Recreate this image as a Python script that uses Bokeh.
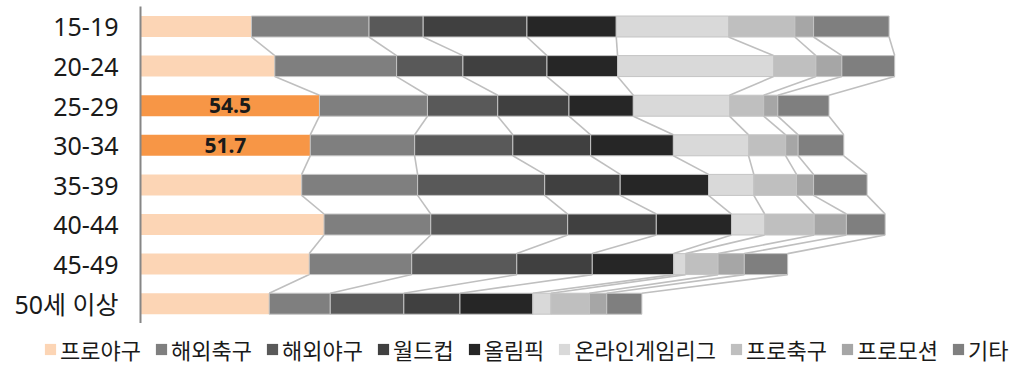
from bokeh.plotting import figure
from bokeh.layouts import column
from bokeh.models import Range1d, FixedTicker, Legend, LegendItem, ColumnDataSource
from bokeh.embed import file_html
from bokeh.resources import INLINE
from bokeh.core.properties import value

categories = ["15-19", "20-24", "25-29", "30-34", "35-39", "40-44", "45-49", "50세 이상"]
series_names = ["프로야구", "해외축구", "해외야구", "월드컵", "올림픽", "온라인게임리그", "프로축구", "프로모션", "기타"]

pro_baseball = [33.8, 40.9, 54.5, 51.7, 49.1, 55.9, 51.4, 39.2]
overseas_soccer = [35.8, 37.1, 32.9, 31.8, 35.3, 32.5, 31.2, 18.6]
overseas_baseball = [16.5, 20.2, 21.4, 29.9, 38.7, 41.7, 32.0, 22.4]
world_cup = [31.6, 25.6, 21.7, 23.7, 23.0, 27.0, 23.0, 17.1]
olympics = [27.2, 21.5, 19.6, 25.2, 26.9, 22.9, 24.8, 22.2]
online_game_league = [34.2, 47.5, 29.3, 22.9, 13.8, 10.1, 3.6, 5.5]
pro_soccer = [20.2, 12.9, 10.4, 11.3, 13.0, 15.1, 9.9, 11.7]
promotion = [5.7, 7.9, 4.3, 3.8, 5.2, 9.8, 8.0, 5.3]
other = [23.0, 16.1, 15.6, 13.9, 16.3, 11.8, 13.2, 10.7]

highlight = ["25-29", "30-34"]

series_values = [pro_baseball, overseas_soccer, overseas_baseball, world_cup, olympics,
                 online_game_league, pro_soccer, promotion, other]
colors = ["#FCD5B5", "#7F7F7F", "#595959", "#404040", "#262626",
          "#D9D9D9", "#BFBFBF", "#A6A6A6", "#7F7F7F"]
highlight_color = "#F79646"
conn_color = "#BFBFBF"

n = len(categories)
ys = list(range(n))
bar_h = 0.53

cum = [[0.0] * n]
for vals in series_values:
    cum.append([c + v for c, v in zip(cum[-1], vals)])

p = figure(width=1015, height=323, output_backend="svg", toolbar_location=None,
           x_range=Range1d(0, 266.5), y_range=Range1d(7.5, -0.505),
           min_border_left=140, min_border_right=0, min_border_top=6, min_border_bottom=0)
p.frame_align = False
p.outline_line_color = None
p.xgrid.visible = False
p.ygrid.visible = False
p.xaxis.visible = False

# connector (series) lines
x0s, y0s, x1s, y1s = [], [], [], []
for i in range(n - 1):
    for k in range(1, len(cum)):
        x0s.append(cum[k][i]); y0s.append(i + bar_h / 2)
        x1s.append(cum[k][i + 1]); y1s.append(i + 1 - bar_h / 2)
p.segment(x0=x0s, y0=y0s, x1=x1s, y1=y1s, line_color=conn_color, line_width=1.6)

for k, (name, vals) in enumerate(zip(series_names, series_values)):
    if k == 0:
        fills = [highlight_color if c in highlight else colors[0] for c in categories]
        lc = None
    else:
        fills = [colors[k]] * n
        lc = "#C4C4C4"
    src = ColumnDataSource(dict(y=ys, left=cum[k], right=cum[k + 1], fill=fills))
    p.hbar(y="y", left="left", right="right", height=bar_h, source=src,
           fill_color="fill", line_color=lc, line_width=1)

# data labels on highlighted bars
lx, ly, lt = [], [], []
for i, c in enumerate(categories):
    if c in highlight:
        lx.append(pro_baseball[i] / 2); ly.append(i); lt.append(f"{pro_baseball[i]:.1f}")
p.text(x=lx, y=ly, text=lt, text_align="center", text_baseline="middle",
       text_font=value("Noto Sans"), text_font_style="bold", text_font_size="21px",
       text_color="#1a1a1a")

ax = p.yaxis[0]
ax.ticker = FixedTicker(ticks=ys)
ax.major_label_overrides = {i: c for i, c in enumerate(categories)}
ax.major_label_text_font = "Noto Sans, Noto Sans CJK KR"
ax.major_label_text_font_size = "25px"
ax.major_label_text_color = "#1a1a1a"
ax.major_tick_line_color = None
ax.minor_tick_line_color = None
ax.major_tick_out = 0
ax.major_tick_in = 0
ax.major_label_standoff = 22
ax.axis_line_color = "#868686"
ax.axis_line_width = 2

# legend strip (keys are off-range placeholder glyphs so the legend can draw its swatches)
lg = figure(width=1015, height=44, output_backend="svg", toolbar_location=None,
            x_range=Range1d(0, 1), y_range=Range1d(0, 1),
            min_border_left=0, min_border_right=0, min_border_top=0, min_border_bottom=0)
lg.frame_align = False
lg.outline_line_color = None
lg.axis.visible = False
lg.grid.visible = False
items = []
for k, name in enumerate(series_names):
    r = lg.hbar(y=[-5], left=[0], right=[0], height=0.5, fill_color=colors[k], line_color=None)
    items.append(LegendItem(label=name, renderers=[r]))
legend = Legend(items=items, orientation="horizontal", location=(43, 2),
                glyph_width=14, glyph_height=14, label_standoff=3, spacing=13,
                padding=0, margin=0, border_line_color=None, background_fill_alpha=0,
                label_text_font="Noto Sans CJK KR", label_text_font_size="22px",
                label_text_color="#1a1a1a")
lg.add_layout(legend, "center")

open("out.html", "w").write(file_html(column(p, lg, spacing=0), INLINE))
